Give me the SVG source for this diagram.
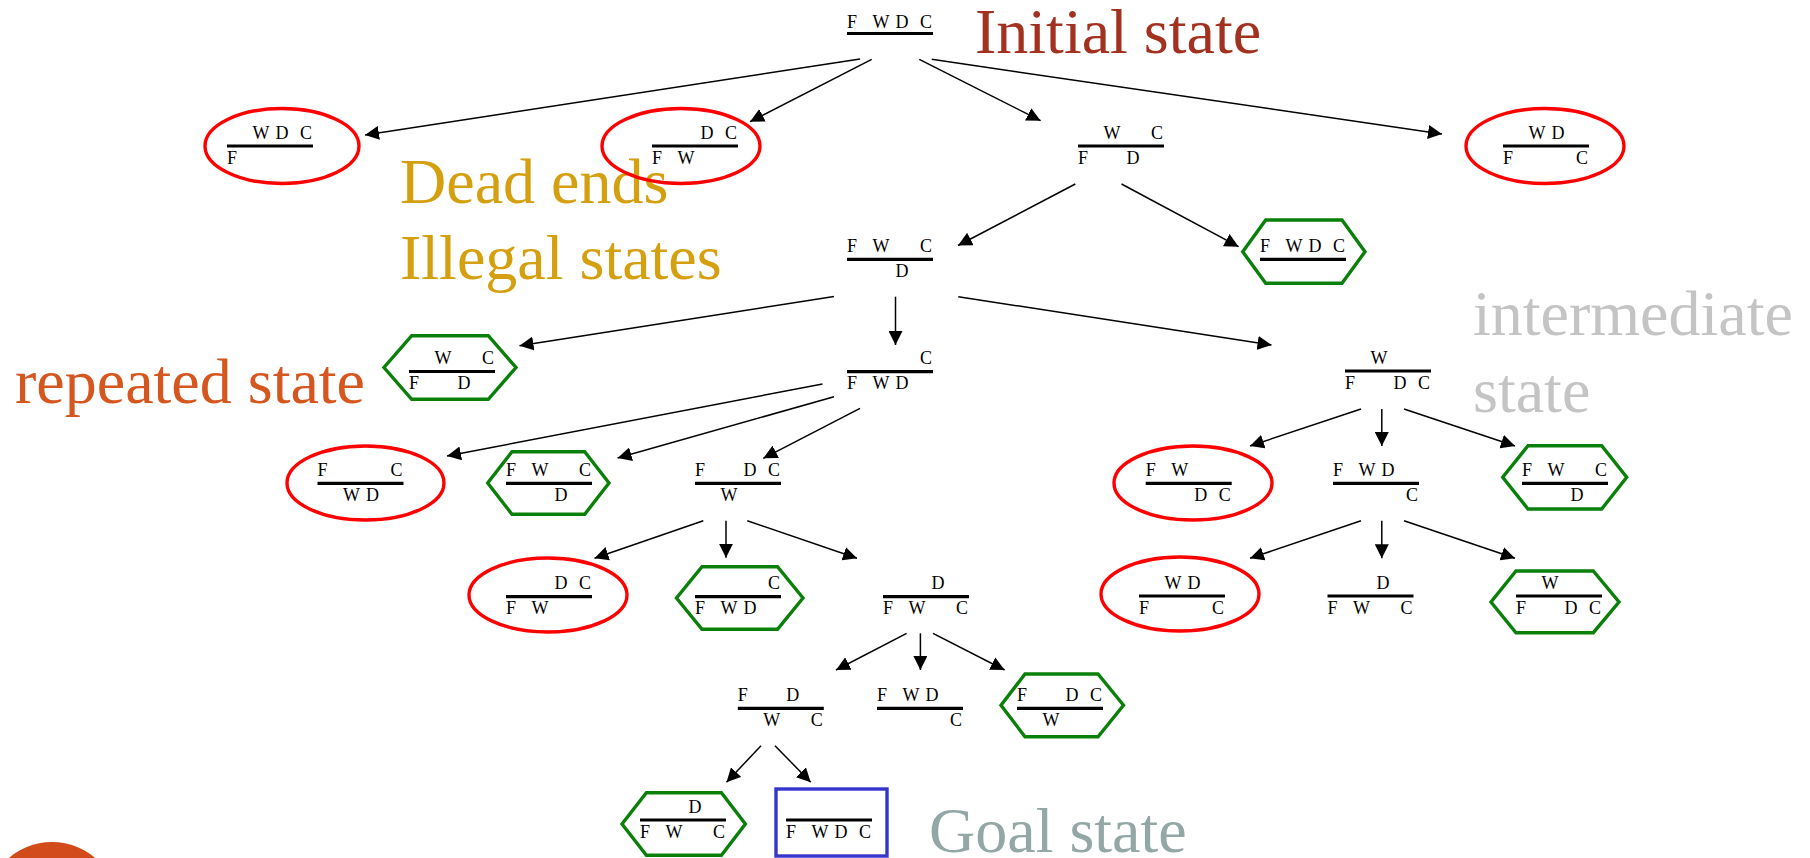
<svg xmlns="http://www.w3.org/2000/svg" width="1810" height="858" viewBox="0 0 1810 858">
<style>
  .st{font-family:"Liberation Serif","Times New Roman",serif;font-size:18px;fill:#000}
  .big{font-family:"Liberation Serif","Times New Roman",serif;font-size:64px}
  .bar{stroke:#000;stroke-width:3.2}
  .dead{fill:none;stroke:#ff0000;stroke-width:3.4}
  .rep{fill:none;stroke:#0a800a;stroke-width:3.4}
  .goal{fill:none;stroke:#3535cc;stroke-width:3.4}
  .edge{stroke:#000;stroke-width:1.5;fill:none;marker-end:url(#ah)}
</style>
<defs>
  <marker id="ah" viewBox="0 0 14 14" refX="14" refY="7" markerWidth="14" markerHeight="14" markerUnits="userSpaceOnUse" orient="auto">
    <path d="M0,0 L14,7 L0,14 z" fill="#000"/>
  </marker>
</defs>
<rect width="1810" height="858" fill="#fff"/>

<circle cx="52" cy="908" r="66" fill="#d24b1b"/>

<g id="labels">
  <text class="big" x="975" y="53" fill="#a2311f">Initial state</text>
  <text class="big" x="400" y="203" fill="#d4a00f">Dead ends</text>
  <text class="big" x="400" y="279" fill="#d4a00f">Illegal states</text>
  <text class="big" x="15" y="403" fill="#d5561f">repeated state</text>
  <text class="big" x="1473" y="335" fill="#c4c4c4">intermediate</text>
  <text class="big" x="1473" y="412" fill="#c4c4c4">state</text>
  <text class="big" x="929" y="852" fill="#93a8a6">Goal state</text>
</g>

<g id="connectors">
  <line class="edge" x1="860" y1="59" x2="365" y2="135"/>
  <line class="edge" x1="871.7" y1="59.3" x2="750" y2="121.7"/>
  <line class="edge" x1="919.3" y1="59.3" x2="1040.6" y2="120.7"/>
  <line class="edge" x1="931.7" y1="59.3" x2="1442" y2="134"/>
  <line class="edge" x1="1075.3" y1="184" x2="958" y2="245.5"/>
  <line class="edge" x1="1121.5" y1="184" x2="1238.6" y2="246.7"/>
  <line class="edge" x1="834" y1="296.5" x2="519.5" y2="345.7"/>
  <line class="edge" x1="895.5" y1="296.7" x2="895.5" y2="345"/>
  <line class="edge" x1="958.3" y1="296.7" x2="1271.5" y2="345"/>
  <line class="edge" x1="822.5" y1="384" x2="447" y2="456"/>
  <line class="edge" x1="834" y1="396.7" x2="617.6" y2="458"/>
  <line class="edge" x1="860" y1="408.3" x2="763.3" y2="458.3"/>
  <line class="edge" x1="703.3" y1="520.7" x2="594.5" y2="558.3"/>
  <line class="edge" x1="726" y1="520.7" x2="726" y2="557.7"/>
  <line class="edge" x1="747.3" y1="520.7" x2="857" y2="558.3"/>
  <line class="edge" x1="906.6" y1="633.3" x2="836" y2="670"/>
  <line class="edge" x1="920.4" y1="633.3" x2="920.4" y2="670"/>
  <line class="edge" x1="933" y1="633.3" x2="1004.6" y2="670"/>
  <line class="edge" x1="761" y1="745.7" x2="726.5" y2="782.3"/>
  <line class="edge" x1="775" y1="745.7" x2="810.7" y2="782.3"/>
  <line class="edge" x1="1361" y1="409" x2="1250" y2="446"/>
  <line class="edge" x1="1381.8" y1="409" x2="1381.8" y2="446"/>
  <line class="edge" x1="1404" y1="409" x2="1515" y2="446"/>
  <line class="edge" x1="1361" y1="520.7" x2="1250" y2="558.3"/>
  <line class="edge" x1="1381.8" y1="520.7" x2="1381.8" y2="558.3"/>
  <line class="edge" x1="1404" y1="520.7" x2="1515" y2="558.3"/>
</g>

<g id="n0">
  <line class="bar" x1="847" y1="33.5" x2="933" y2="33.5"/>
  <text class="st" y="28"><tspan x="847">F</tspan> <tspan x="872.5">W</tspan> <tspan x="895.5">D</tspan> <tspan x="920">C</tspan></text>
</g>
<g id="n1">
  <ellipse class="dead" cx="282" cy="146" rx="77" ry="37.5"/>
  <line class="bar" x1="227" y1="146" x2="313" y2="146"/>
  <text class="st" y="138.5"><tspan x="252.5">W</tspan> <tspan x="275.5">D</tspan> <tspan x="300">C</tspan></text>
  <text class="st" y="163.5"><tspan x="227">F</tspan></text>
</g>
<g id="n2">
  <ellipse class="dead" cx="681" cy="146" rx="79" ry="37.5"/>
  <line class="bar" x1="652" y1="146" x2="738" y2="146"/>
  <text class="st" y="138.5"><tspan x="700.5">D</tspan> <tspan x="725">C</tspan></text>
  <text class="st" y="163.5"><tspan x="652">F</tspan> <tspan x="677.5">W</tspan></text>
</g>
<g id="n3">
  <line class="bar" x1="1078" y1="146" x2="1164" y2="146"/>
  <text class="st" y="138.5"><tspan x="1103.5">W</tspan> <tspan x="1151">C</tspan></text>
  <text class="st" y="163.5"><tspan x="1078">F</tspan> <tspan x="1126.5">D</tspan></text>
</g>
<g id="n4">
  <ellipse class="dead" cx="1545" cy="146" rx="79" ry="37.5"/>
  <line class="bar" x1="1503" y1="146" x2="1589" y2="146"/>
  <text class="st" y="138.5"><tspan x="1528.5">W</tspan> <tspan x="1551.5">D</tspan></text>
  <text class="st" y="163.5"><tspan x="1503">F</tspan> <tspan x="1576">C</tspan></text>
</g>
<g id="n5">
  <line class="bar" x1="847" y1="259.3" x2="933" y2="259.3"/>
  <text class="st" y="251.8"><tspan x="847">F</tspan> <tspan x="872.5">W</tspan> <tspan x="920">C</tspan></text>
  <text class="st" y="276.8"><tspan x="895.5">D</tspan></text>
</g>
<g id="n6">
  <polygon class="rep" points="1265.7,220 1342,220 1365,251.7 1342,283.3 1265.7,283.3 1242.7,251.7"/>
  <line class="bar" x1="1260" y1="259.3" x2="1346" y2="259.3"/>
  <text class="st" y="251.8"><tspan x="1260">F</tspan> <tspan x="1285.5">W</tspan> <tspan x="1308.5">D</tspan> <tspan x="1333">C</tspan></text>
</g>
<g id="n7">
  <polygon class="rep" points="411.7,335.7 488.3,335.7 516,367.5 488.3,399.3 411.7,399.3 384,367.5"/>
  <line class="bar" x1="409" y1="371.5" x2="495" y2="371.5"/>
  <text class="st" y="364"><tspan x="434.5">W</tspan> <tspan x="482">C</tspan></text>
  <text class="st" y="389"><tspan x="409">F</tspan> <tspan x="457.5">D</tspan></text>
</g>
<g id="n8">
  <line class="bar" x1="847" y1="371.7" x2="933" y2="371.7"/>
  <text class="st" y="364.2"><tspan x="920">C</tspan></text>
  <text class="st" y="389.2"><tspan x="847">F</tspan> <tspan x="872.5">W</tspan> <tspan x="895.5">D</tspan></text>
</g>
<g id="n9">
  <line class="bar" x1="1345" y1="371" x2="1431" y2="371"/>
  <text class="st" y="363.5"><tspan x="1370.5">W</tspan></text>
  <text class="st" y="388.5"><tspan x="1345">F</tspan> <tspan x="1393.5">D</tspan> <tspan x="1418">C</tspan></text>
</g>
<g id="n10">
  <ellipse class="dead" cx="365.5" cy="483" rx="78.5" ry="37"/>
  <line class="bar" x1="317.5" y1="483.3" x2="403.5" y2="483.3"/>
  <text class="st" y="475.8"><tspan x="317.5">F</tspan> <tspan x="390.5">C</tspan></text>
  <text class="st" y="500.8"><tspan x="343">W</tspan> <tspan x="366">D</tspan></text>
</g>
<g id="n11">
  <polygon class="rep" points="512,451.7 584.7,451.7 609,483 584.7,514.3 512,514.3 487.7,483"/>
  <line class="bar" x1="506" y1="483.3" x2="592" y2="483.3"/>
  <text class="st" y="475.8"><tspan x="506">F</tspan> <tspan x="531.5">W</tspan> <tspan x="579">C</tspan></text>
  <text class="st" y="500.8"><tspan x="554.5">D</tspan></text>
</g>
<g id="n12">
  <line class="bar" x1="695" y1="483.3" x2="781" y2="483.3"/>
  <text class="st" y="475.8"><tspan x="695">F</tspan> <tspan x="743.5">D</tspan> <tspan x="768">C</tspan></text>
  <text class="st" y="500.8"><tspan x="720.5">W</tspan></text>
</g>
<g id="n13">
  <ellipse class="dead" cx="1193" cy="483" rx="79" ry="37"/>
  <line class="bar" x1="1145.7" y1="483.3" x2="1231.7" y2="483.3"/>
  <text class="st" y="475.8"><tspan x="1145.7">F</tspan> <tspan x="1171.2">W</tspan></text>
  <text class="st" y="500.8"><tspan x="1194.2">D</tspan> <tspan x="1218.7">C</tspan></text>
</g>
<g id="n14">
  <line class="bar" x1="1333" y1="483.3" x2="1419" y2="483.3"/>
  <text class="st" y="475.8"><tspan x="1333">F</tspan> <tspan x="1358.5">W</tspan> <tspan x="1381.5">D</tspan></text>
  <text class="st" y="500.8"><tspan x="1406">C</tspan></text>
</g>
<g id="n15">
  <polygon class="rep" points="1528,445.7 1601.7,445.7 1626.7,477.3 1601.7,509 1528,509 1502.7,477.3"/>
  <line class="bar" x1="1522" y1="483.3" x2="1608" y2="483.3"/>
  <text class="st" y="476.2"><tspan x="1522">F</tspan> <tspan x="1547.5">W</tspan> <tspan x="1595">C</tspan></text>
  <text class="st" y="501.2"><tspan x="1570.5">D</tspan></text>
</g>
<g id="n16">
  <ellipse class="dead" cx="548" cy="595" rx="79" ry="37"/>
  <line class="bar" x1="506" y1="596.7" x2="592" y2="596.7"/>
  <text class="st" y="589.2"><tspan x="554.5">D</tspan> <tspan x="579">C</tspan></text>
  <text class="st" y="614.2"><tspan x="506">F</tspan> <tspan x="531.5">W</tspan></text>
</g>
<g id="n17">
  <polygon class="rep" points="702,566.7 777.5,566.7 803,598 777.5,629.3 702,629.3 676.5,598"/>
  <line class="bar" x1="695" y1="596.7" x2="781" y2="596.7"/>
  <text class="st" y="589.2"><tspan x="768">C</tspan></text>
  <text class="st" y="614.2"><tspan x="695">F</tspan> <tspan x="720.5">W</tspan> <tspan x="743.5">D</tspan></text>
</g>
<g id="n18">
  <line class="bar" x1="883" y1="596.7" x2="969" y2="596.7"/>
  <text class="st" y="589.2"><tspan x="931.5">D</tspan></text>
  <text class="st" y="614.2"><tspan x="883">F</tspan> <tspan x="908.5">W</tspan> <tspan x="956">C</tspan></text>
</g>
<g id="n19">
  <ellipse class="dead" cx="1180" cy="594" rx="79" ry="37"/>
  <line class="bar" x1="1139" y1="596" x2="1225" y2="596"/>
  <text class="st" y="588.5"><tspan x="1164.5">W</tspan> <tspan x="1187.5">D</tspan></text>
  <text class="st" y="613.5"><tspan x="1139">F</tspan> <tspan x="1212">C</tspan></text>
</g>
<g id="n20">
  <line class="bar" x1="1327.5" y1="596" x2="1413.5" y2="596"/>
  <text class="st" y="588.5"><tspan x="1376.5">D</tspan></text>
  <text class="st" y="613.5"><tspan x="1327.5">F</tspan> <tspan x="1353">W</tspan> <tspan x="1400.5">C</tspan></text>
</g>
<g id="n21">
  <polygon class="rep" points="1516,571 1593.3,571 1619,602 1593.3,632.7 1516,632.7 1491,602"/>
  <line class="bar" x1="1516" y1="596" x2="1602" y2="596"/>
  <text class="st" y="588.5"><tspan x="1541.5">W</tspan></text>
  <text class="st" y="613.5"><tspan x="1516">F</tspan> <tspan x="1564.5">D</tspan> <tspan x="1589">C</tspan></text>
</g>
<g id="n22">
  <line class="bar" x1="737.8" y1="708.3" x2="823.8" y2="708.3"/>
  <text class="st" y="700.8"><tspan x="737.8">F</tspan> <tspan x="786.3">D</tspan></text>
  <text class="st" y="725.8"><tspan x="763.3">W</tspan> <tspan x="810.8">C</tspan></text>
</g>
<g id="n23">
  <line class="bar" x1="877" y1="708.3" x2="963" y2="708.3"/>
  <text class="st" y="700.8"><tspan x="877">F</tspan> <tspan x="902.5">W</tspan> <tspan x="925.5">D</tspan></text>
  <text class="st" y="725.8"><tspan x="950">C</tspan></text>
</g>
<g id="n24">
  <polygon class="rep" points="1025,674 1098,674 1123.5,705.3 1098,736.7 1025,736.7 1001,705.3"/>
  <line class="bar" x1="1017" y1="708.3" x2="1103" y2="708.3"/>
  <text class="st" y="700.8"><tspan x="1017">F</tspan> <tspan x="1065.5">D</tspan> <tspan x="1090">C</tspan></text>
  <text class="st" y="725.8"><tspan x="1042.5">W</tspan></text>
</g>
<g id="n25">
  <polygon class="rep" points="646.4,792.7 721.4,792.7 745.4,824 721.4,855.3 646.4,855.3 622,824"/>
  <line class="bar" x1="640" y1="820" x2="726" y2="820"/>
  <text class="st" y="812.5"><tspan x="688.5">D</tspan></text>
  <text class="st" y="837.5"><tspan x="640">F</tspan> <tspan x="665.5">W</tspan> <tspan x="713">C</tspan></text>
</g>
<g id="n26">
  <rect class="goal" x="776" y="789" width="111" height="67"/>
  <line class="bar" x1="786" y1="820" x2="872" y2="820"/>
  <text class="st" y="837.5"><tspan x="786">F</tspan> <tspan x="811.5">W</tspan> <tspan x="834.5">D</tspan> <tspan x="859">C</tspan></text>
</g>
</svg>
